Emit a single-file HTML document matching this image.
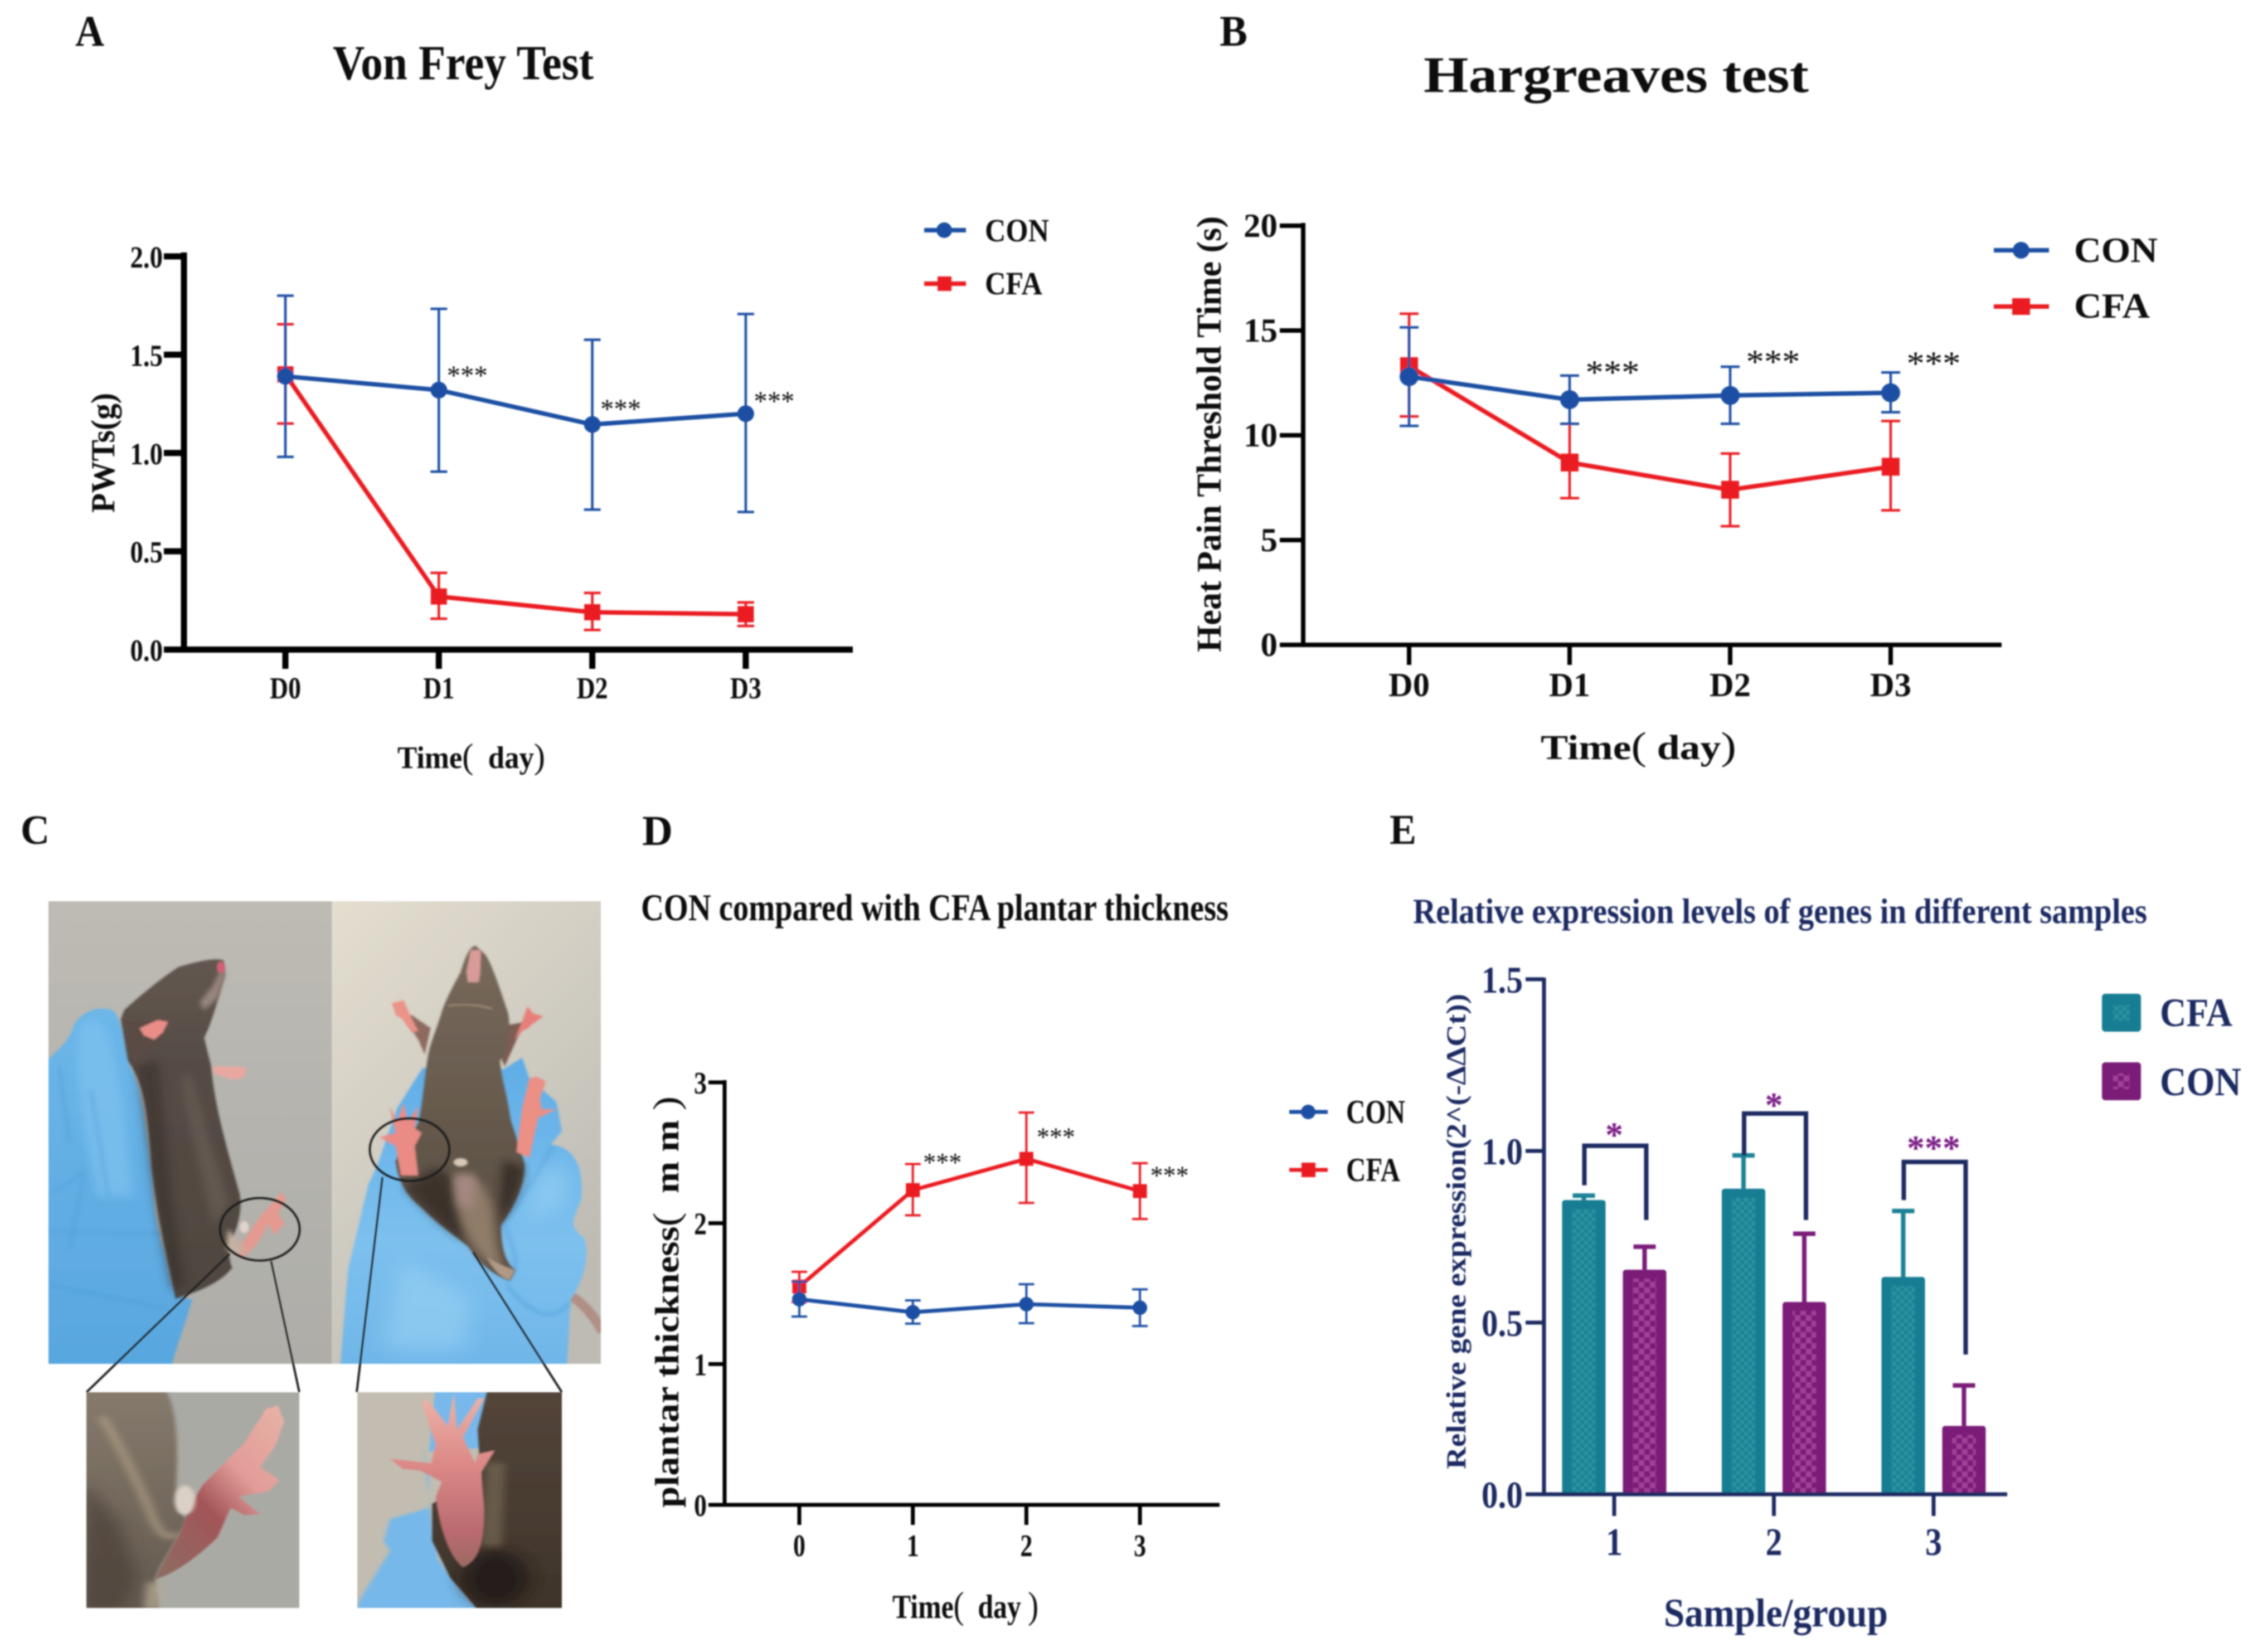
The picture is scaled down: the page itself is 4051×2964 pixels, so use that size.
<!DOCTYPE html>
<html lang="en">
<head>
<meta charset="utf-8">
<title>Von Frey, Hargreaves, plantar thickness and gene expression figure</title>
<style>
html,body{margin:0;padding:0;background:#fff;}
svg{display:block;}
text{font-family:"Liberation Serif","Noto Serif CJK SC",serif;font-weight:bold;fill:#111;}
.navy{fill:#1f2c62;}
.thin{font-weight:normal;}
</style>
</head>
<body>
<svg id="fig" xmlns="http://www.w3.org/2000/svg" width="4051" height="2964" viewBox="0 0 4051 2964">
<defs>
  <filter id="soft" x="-2%" y="-2%" width="104%" height="104%"><feGaussianBlur stdDeviation="1.3"/></filter>
  <filter id="b3" x="-10%" y="-10%" width="120%" height="120%"><feGaussianBlur stdDeviation="3"/></filter>
  <filter id="b7" x="-20%" y="-20%" width="140%" height="140%"><feGaussianBlur stdDeviation="7"/></filter>
  <filter id="b14" x="-30%" y="-30%" width="160%" height="160%"><feGaussianBlur stdDeviation="14"/></filter>
  <filter id="b30" x="-50%" y="-50%" width="200%" height="200%"><feGaussianBlur stdDeviation="30"/></filter>
  <pattern id="chkTeal" width="14" height="14" patternUnits="userSpaceOnUse"><rect width="14" height="14" fill="#1b8296"/><rect width="7" height="7" fill="#2a929f"/><rect x="7" y="7" width="7" height="7" fill="#2a929f"/></pattern>
  <pattern id="chkPurple" width="20" height="20" patternUnits="userSpaceOnUse"><rect width="20" height="20" fill="#7a1a78"/><rect width="10" height="10" fill="#a13f96"/><rect x="10" y="10" width="10" height="10" fill="#a13f96"/></pattern>
  <linearGradient id="bgL" x1="0" y1="0" x2="0" y2="1"><stop offset="0" stop-color="#bebbb4"/><stop offset=".5" stop-color="#b4b3ae"/><stop offset="1" stop-color="#aeada8"/></linearGradient>
  <linearGradient id="bgR" x1="0" y1="0" x2="0.6" y2="1"><stop offset="0" stop-color="#e4decf"/><stop offset=".45" stop-color="#d3cfc4"/><stop offset="1" stop-color="#bdbbb4"/></linearGradient>
  <linearGradient id="gloveL" x1="0" y1="0" x2="0" y2="1"><stop offset="0" stop-color="#6cb6e8"/><stop offset="1" stop-color="#58a6df"/></linearGradient>
  <linearGradient id="gloveR" x1="0" y1="0" x2="0" y2="1"><stop offset="0" stop-color="#5fade6"/><stop offset=".6" stop-color="#7cc0ee"/><stop offset="1" stop-color="#6fb6e8"/></linearGradient>
  <linearGradient id="furL" x1="0" y1="0" x2="0" y2="1"><stop offset="0" stop-color="#625750"/><stop offset=".3" stop-color="#554c45"/><stop offset="1" stop-color="#4f4640"/></linearGradient>
  <linearGradient id="furR" x1="0" y1="0" x2="0" y2="1"><stop offset="0" stop-color="#78695b"/><stop offset=".5" stop-color="#665a4d"/><stop offset="1" stop-color="#54483d"/></linearGradient>
  <linearGradient id="footA" x1="0.9" y1="0" x2="0.1" y2="1"><stop offset="0" stop-color="#e6b0a4"/><stop offset=".35" stop-color="#e29c98"/><stop offset=".6" stop-color="#a35558"/><stop offset="1" stop-color="#8e6b62"/></linearGradient>
  <linearGradient id="footB" x1="0" y1="0" x2="0" y2="1"><stop offset="0" stop-color="#ecb4a8"/><stop offset=".4" stop-color="#dd8a88"/><stop offset=".8" stop-color="#b96a70"/><stop offset="1" stop-color="#9c6a62"/></linearGradient>
  <linearGradient id="furI1" x1="0" y1="0" x2="0" y2="1"><stop offset="0" stop-color="#857a6c"/><stop offset="1" stop-color="#645a50"/></linearGradient>
  <linearGradient id="furI2" x1="0" y1="0" x2="0" y2="1"><stop offset="0" stop-color="#54453a"/><stop offset="1" stop-color="#3e342a"/></linearGradient>
  <clipPath id="clipL"><rect x="0" y="0" width="805" height="1568"/></clipPath>
  <clipPath id="clipR"><rect x="805" y="0" width="763" height="1568"/></clipPath>
  <clipPath id="clipI1"><rect x="0" y="0" width="702" height="1161"/></clipPath>
  <clipPath id="clipI2"><rect x="893" y="0" width="675" height="1161"/></clipPath>
</defs>
<rect width="4051" height="2964" fill="#fff"/>
<g id="root" filter="url(#soft)">

  <text x="135" y="82" font-size="78" textLength="52" lengthAdjust="spacingAndGlyphs">A</text>
  <text x="2188" y="82" font-size="78" textLength="50" lengthAdjust="spacingAndGlyphs">B</text>
  <text x="37" y="1514" font-size="74" textLength="52" lengthAdjust="spacingAndGlyphs">C</text>
  <text x="1152" y="1516" font-size="76" textLength="55" lengthAdjust="spacingAndGlyphs">D</text>
  <text x="2493" y="1514" font-size="76" textLength="48" lengthAdjust="spacingAndGlyphs">E</text>

  <text x="597" y="142" font-size="88" textLength="468" lengthAdjust="spacingAndGlyphs">Von Frey Test</text>
  <text x="2554" y="165" font-size="92" textLength="691" lengthAdjust="spacingAndGlyphs">Hargreaves test</text>
  <text x="1150" y="1651" font-size="68" textLength="1054" lengthAdjust="spacingAndGlyphs">CON compared with CFA plantar thickness</text>
  <text class="navy" x="2535" y="1656" font-size="64" textLength="1317" lengthAdjust="spacingAndGlyphs">Relative expression levels of genes in different samples</text>

  <text x="713" y="1378" font-size="56" textLength="265" lengthAdjust="spacingAndGlyphs">Time<tspan class="thin" font-size="64">(</tspan>&#160;&#160;day<tspan class="thin" font-size="64">)</tspan></text>
  <text transform="translate(205,920) rotate(-90)" font-size="60" textLength="215" lengthAdjust="spacingAndGlyphs">PWTs(g)</text>
  <text x="2764" y="1362" font-size="62" textLength="351" lengthAdjust="spacingAndGlyphs">Time<tspan class="thin" font-size="70">(</tspan>&#160;day<tspan class="thin" font-size="70">)</tspan></text>
  <text transform="translate(2190,1170) rotate(-90)" font-size="62" textLength="782" lengthAdjust="spacingAndGlyphs">Heat Pain Threshold Time (s)</text>
  <text x="1601" y="2903" font-size="60" textLength="262" lengthAdjust="spacingAndGlyphs">Time<tspan class="thin" font-size="68">(</tspan>&#160;&#160;day&#160;<tspan class="thin" font-size="68">)</tspan></text>
  <text transform="translate(1217,2705) rotate(-90)" font-size="60" textLength="738" lengthAdjust="spacingAndGlyphs">plantar thickness<tspan class="thin" font-size="66">(</tspan>&#160;&#160;m m&#160;<tspan class="thin" font-size="66">)</tspan></text>
  <text class="navy" x="2985" y="2918" font-size="72" textLength="402" lengthAdjust="spacingAndGlyphs">Sample/group</text>
  <text class="navy" transform="translate(2629,2636) rotate(-90)" font-size="50" textLength="853" lengthAdjust="spacingAndGlyphs">Relative gene expression(2^(-ΔΔCt))</text>

  <g>
    <line x1="1658" y1="413" x2="1733" y2="413" stroke="#1f4fa3" stroke-width="8"/>
    <circle cx="1694" cy="413" r="14" fill="#1f4fa3"/>
    <text x="1767" y="433" font-size="58" textLength="115" lengthAdjust="spacingAndGlyphs">CON</text>
    <line x1="1658" y1="509" x2="1733" y2="509" stroke="#ea1c24" stroke-width="8"/>
    <rect x="1682" y="496" width="25" height="26" fill="#ea1c24"/>
    <text x="1767" y="528" font-size="58" textLength="103" lengthAdjust="spacingAndGlyphs">CFA</text>
  </g>
  <g>
    <line x1="3577" y1="449" x2="3676" y2="449" stroke="#1f4fa3" stroke-width="8"/>
    <circle cx="3626" cy="449" r="15" fill="#1f4fa3"/>
    <text x="3721" y="470" font-size="64" textLength="150" lengthAdjust="spacingAndGlyphs">CON</text>
    <line x1="3577" y1="550" x2="3676" y2="550" stroke="#ea1c24" stroke-width="8"/>
    <rect x="3610" y="535" width="32" height="30" fill="#ea1c24"/>
    <text x="3721" y="570" font-size="64" textLength="136" lengthAdjust="spacingAndGlyphs">CFA</text>
  </g>
  <g>
    <line x1="2313" y1="1995" x2="2382" y2="1995" stroke="#1f4fa3" stroke-width="7"/>
    <circle cx="2347" cy="1995" r="13" fill="#1f4fa3"/>
    <text x="2415" y="2015" font-size="60" textLength="106" lengthAdjust="spacingAndGlyphs">CON</text>
    <line x1="2313" y1="2099" x2="2382" y2="2099" stroke="#ea1c24" stroke-width="7"/>
    <rect x="2335" y="2086" width="25" height="26" fill="#ea1c24"/>
    <text x="2415" y="2119" font-size="60" textLength="97" lengthAdjust="spacingAndGlyphs">CFA</text>
  </g>
  <g>
    <rect x="3771" y="1783" width="70" height="68" rx="6" fill="#157d93"/>
    <rect x="3791" y="1803" width="30" height="28" fill="url(#chkTeal)"/>
    <text class="navy" x="3875" y="1841" font-size="72" textLength="130" lengthAdjust="spacingAndGlyphs">CFA</text>
    <rect x="3771" y="1906" width="70" height="68" rx="6" fill="#7a1a78"/>
    <rect x="3791" y="1926" width="30" height="28" fill="url(#chkPurple)"/>
    <text class="navy" x="3875" y="1965" font-size="72" textLength="146" lengthAdjust="spacingAndGlyphs">CON</text>
  </g>

  <g id="chart-a"></g>
  <g id="chart-b"></g>
  <g id="chart-d"></g>
  <g id="chart-e"></g>

  <g transform="translate(87,1617) scale(0.632,0.5293)">
    <g clip-path="url(#clipL)">
      <rect x="0" y="0" width="805" height="1568" fill="url(#bgL)"/>
      <path filter="url(#b3)" d="M-10 545 C40 490 60 470 72 420 C95 370 150 350 185 372 C205 400 212 440 232 560 C270 640 272 750 292 900 C302 1000 292 1050 332 1200 C352 1300 348 1340 408 1350 C392 1420 372 1480 348 1578 L-10 1578 Z" fill="url(#gloveL)"/>
      <path filter="url(#b14)" d="M90 420 C140 380 170 420 180 520 C210 620 220 800 240 1000 L140 1000 C110 800 70 620 90 420 Z" fill="#7fc3ef" opacity=".7"/>
      <path filter="url(#b7)" d="M0 1120 L320 1125 M10 990 L100 920 L60 1180 M0 1300 L330 1380 M30 560 L60 820 M120 640 L170 1000" stroke="#4a98d2" stroke-width="8" fill="none" opacity=".5"/>
      <path filter="url(#b3)" d="M497 200 C470 190 420 205 370 222 C320 260 260 320 215 368 L205 400 L225 540 C270 620 282 700 292 900 C312 1100 345 1250 360 1348 C430 1322 490 1292 522 1242 C512 1222 515 1190 510 1170 C545 1100 552 1020 540 980 C510 850 472 700 462 560 L442 462 C462 420 482 330 502 250 Z" fill="url(#furL)"/>
      <path filter="url(#b14)" d="M250 560 C270 700 290 1000 350 1320 L390 1300 C340 1000 330 700 310 540 Z" fill="#332b26" opacity=".5"/>
      <path filter="url(#b14)" d="M400 580 C440 760 480 900 510 1020 L470 1100 C430 900 400 760 380 600 Z" fill="#6f655c" opacity=".6"/>
      <path filter="url(#b7)" d="M498 210 L504 250 L480 330 L440 370 L430 340 L465 290 Z" fill="#b09a94" opacity=".7"/>
      <ellipse filter="url(#b3)" cx="489" cy="224" rx="11" ry="20" fill="#d85f75"/>
      <path filter="url(#b3)" d="M220 410 L340 400 L320 470 L240 550 Z" fill="#5a4b45"/>
      <path filter="url(#b3)" d="M258 430 L310 402 L340 408 L325 445 L300 470 L270 455 Z" fill="#ea8d88"/>
      <path filter="url(#b3)" d="M465 560 L530 560 L562 565 L555 598 L525 605 L470 585 Z" fill="#e8a8a0"/>
      <path filter="url(#b3)" d="M520 1190 C560 1160 578 1095 615 1050 L662 985 L674 1010 L652 1060 L670 1092 L642 1130 L622 1092 C605 1150 575 1190 548 1208 Z" fill="#e49a90"/>
      <path filter="url(#b7)" d="M510 1110 L560 1180 L535 1210 L505 1175 Z" fill="#c5b0a2"/>
      <ellipse filter="url(#b3)" cx="556" cy="1105" rx="13" ry="20" fill="#dfd4ca"/>
    </g>
    <g clip-path="url(#clipR)">
      <rect x="805" y="0" width="763" height="1568" fill="url(#bgR)"/>
      <path filter="url(#b3)" d="M1485 1340 Q1530 1370 1575 1460" fill="none" stroke="#b08f85" stroke-width="30"/>
      <path filter="url(#b3)" d="M828 1578 L850 1250 C880 1100 892 1040 908 960 L935 890 L990 700 L1062 565 L1290 570 L1345 530 L1365 600 L1442 680 L1458 780 L1425 825 C1490 830 1522 900 1512 1010 C1492 1080 1472 1100 1520 1140 C1537 1200 1522 1280 1482 1350 L1472 1578 Z" fill="url(#gloveR)"/>
      <path filter="url(#b7)" d="M1290 1090 C1330 1200 1340 1240 1300 1290 M1300 1300 C1380 1420 1440 1420 1480 1360 M1430 830 C1400 900 1350 1000 1290 1090" stroke="#4a98d4" stroke-width="8" fill="none" opacity=".6"/>
      <path filter="url(#b30)" d="M1000 1220 L1200 1340 L1180 1520 L950 1520 Z M1400 900 L1480 900 L1460 1040 L1350 1080 Z" fill="#a2d6f5" opacity=".5"/>
      <path filter="url(#b3)" d="M1085 430 L1068 520 L1050 470 L1010 400 L1030 385 Z" fill="#8d6a60"/>
      <path filter="url(#b3)" d="M1300 420 L1350 410 L1325 480 L1295 560 L1280 520 Z" fill="#7b5b52"/>
      <path filter="url(#b3)" d="M975 345 L1008 335 L1030 395 L1050 440 L1032 445 L1005 400 L985 385 Z" fill="#ec9388"/>
      <path filter="url(#b3)" d="M1322 470 L1345 405 L1360 355 L1375 380 L1405 390 L1370 420 L1362 430 L1345 440 Z" fill="#e77f78"/>
      <path filter="url(#b3)" d="M1212 150 C1195 155 1182 190 1170 240 C1142 300 1122 350 1115 380 C1100 440 1082 480 1075 540 C1065 620 1060 700 1050 750 L985 880 C990 930 1005 990 1060 1040 C1100 1090 1150 1130 1190 1170 C1220 1220 1260 1270 1310 1285 L1325 1250 C1290 1220 1285 1150 1285 1100 C1330 1020 1352 960 1352 890 L1312 740 C1302 650 1285 600 1282 540 C1312 490 1312 430 1305 380 C1282 300 1262 220 1240 180 Z" fill="url(#furR)"/>
      <path filter="url(#b14)" d="M1010 970 C1060 1030 1110 1100 1180 1150 L1160 950 L1100 900 Z" fill="#2f2620" opacity=".7"/>
      <path filter="url(#b14)" d="M1290 880 L1350 900 C1340 970 1320 1030 1280 1090 Z" fill="#2e2620" opacity=".8"/>
      <path filter="url(#b14)" d="M1150 930 C1200 910 1240 950 1260 1040 C1270 1130 1270 1190 1300 1260 L1240 1220 C1180 1150 1150 1040 1150 930 Z" fill="#8f7b69"/>
      <path filter="url(#b14)" d="M1155 930 L1210 930 L1205 1040 L1165 1030 Z" fill="#a58883"/>
      <path filter="url(#b3)" d="M1245 1205 C1275 1230 1300 1240 1325 1250 L1310 1285 C1280 1275 1260 1245 1245 1205 Z" fill="#b09a85"/>
      <path filter="url(#b3)" d="M1135 355 Q1190 340 1260 365" fill="none" stroke="#a99379" stroke-width="5"/>
      <path filter="url(#b3)" d="M1198 165 L1228 165 L1226 240 L1222 275 L1190 275 L1186 240 Z" fill="#d89b98"/>
      <ellipse filter="url(#b3)" cx="1170" cy="885" rx="20" ry="14" fill="#d9c8b4"/>
      <path filter="url(#b3)" d="M1328 850 L1345 700 L1365 600 L1385 595 L1412 610 L1395 670 L1400 705 L1442 705 L1390 735 L1365 870 Z" fill="#ec8f85"/>
      <path filter="url(#b3)" d="M1000 930 L985 830 L940 800 L985 785 L968 695 L990 745 L1008 685 L1020 745 L1050 695 L1040 770 L1060 785 L1040 830 L1050 930 Z" fill="#ea8b85"/>
    </g>
    <ellipse cx="600" cy="1112" rx="113" ry="106" fill="none" stroke="#222" stroke-width="5" vector-effect="non-scaling-stroke"/>
    <ellipse cx="1025" cy="842" rx="113" ry="106" fill="none" stroke="#222" stroke-width="5" vector-effect="non-scaling-stroke"/>
    <line x1="515" y1="1195" x2="108" y2="1664" stroke="#222" stroke-width="4" vector-effect="non-scaling-stroke"/>
    <line x1="632" y1="1220" x2="712" y2="1664" stroke="#222" stroke-width="4" vector-effect="non-scaling-stroke"/>
    <line x1="948" y1="935" x2="875" y2="1664" stroke="#222" stroke-width="4" vector-effect="non-scaling-stroke"/>
    <line x1="1205" y1="1190" x2="1457" y2="1664" stroke="#222" stroke-width="4" vector-effect="non-scaling-stroke"/>
  </g>

  <g transform="translate(155,2498) scale(0.544,0.3333)">
    <g clip-path="url(#clipI1)">
      <rect x="0" y="0" width="702" height="1161" fill="#aaaaa4"/>
      <path filter="url(#b7)" d="M-10 -10 L262 -10 C302 100 302 300 296 500 L302 640 L332 680 C312 780 252 900 226 1010 L236 1170 L-10 1170 Z" fill="url(#furI1)"/>
      <path filter="url(#b14)" d="M50 130 C110 280 180 520 220 680 C240 760 270 800 300 760" fill="none" stroke="#b5a488" stroke-width="30" opacity=".65"/>
      <path filter="url(#b30)" d="M-10 480 L110 700 L170 1000 L120 1170 L-10 1170 Z" fill="#463c34" opacity=".65"/>
      <path filter="url(#b14)" d="M200 1020 L245 1030 L240 1170 L190 1170 Z" fill="#b4a992" opacity=".8"/>
      <path filter="url(#b3)" d="M225 1008 C300 975 382 862 432 782 L476 622 L522 662 L572 655 L502 562 L602 532 L636 472 L572 402 L622 292 L652 160 L632 70 L592 90 L522 272 L442 402 L382 502 C352 582 322 682 312 752 C282 832 242 952 225 1008 Z" fill="url(#footA)"/>
      <ellipse filter="url(#b7)" cx="325" cy="580" rx="34" ry="78" fill="#dbd0c6"/>
    </g>
    <g clip-path="url(#clipI2)">
      <rect x="893" y="0" width="675" height="1161" fill="#c2bdb0"/>
      <path filter="url(#b3)" d="M1150 -10 L1325 -10 L1300 300 L1130 320 Z" fill="#78b8ea"/>
      <path filter="url(#b7)" d="M1110 290 L1130 460 L1130 622 L1002 682 L980 800 L1002 852 L900 1120 L893 1170 L1295 1170 C1250 1100 1210 1000 1160 900 L1140 700 Z" fill="#76b8ea"/>
      <path filter="url(#b3)" d="M1322 -10 L1578 -10 L1578 1170 L1290 1170 L1200 1000 L1140 800 L1140 600 L1300 450 L1290 200 Z" fill="url(#furI2)"/>
      <ellipse filter="url(#b30)" cx="1350" cy="1000" rx="110" ry="150" fill="#1f1812" opacity=".75"/>
      <path filter="url(#b14)" d="M1320 380 L1380 380 L1370 830 L1300 830 Z" fill="#7d6f5a" opacity=".6"/>
      <path filter="url(#b3)" d="M1172 482 L1152 562 C1162 702 1192 882 1242 942 C1302 902 1312 782 1312 622 L1302 432 L1347 312 L1292 332 L1282 382 L1242 242 L1312 32 L1292 32 L1222 202 L1212 2 L1192 182 L1122 32 L1107 62 L1152 282 L1137 382 L1002 357 L1042 412 L1102 422 Z" fill="url(#footB)"/>
    </g>
  </g>
</g>
</svg>
<script>
// ---- Chart A data (Von Frey) ----
const aCategories = ['D0', 'D1', 'D2', 'D3'];
const aYTicks = ['0.0', '0.5', '1.0', '1.5', '2.0'];
const aConMean = [1.39, 1.32, 1.145, 1.20];
const aConHigh = [1.80, 1.733, 1.576, 1.707];
const aConLow = [0.98, 0.905, 0.712, 0.70];
const aCfaMean = [1.40, 0.27, 0.19, 0.18];
const aCfaHigh = [1.655, 0.39, 0.288, 0.24];
const aCfaLow = [1.15, 0.157, 0.10, 0.12];
const aStarLevels = [null, 1.416, 1.246, 1.286];

// ---- Chart B data (Hargreaves) ----
const bCategories = ['D0', 'D1', 'D2', 'D3'];
const bYTicks = ['0', '5', '10', '15', '20'];
const bConMean = [12.8, 11.7, 11.9, 12.03];
const bConHigh = [15.15, 12.85, 13.27, 13.0];
const bConLow = [10.45, 10.55, 10.55, 11.1];
const bCfaMean = [13.3, 8.7, 7.4, 8.5];
const bCfaHigh = [15.8, 10.55, 9.13, 10.68];
const bCfaLow = [10.9, 7.0, 5.66, 6.42];
const bStarLevels = [null, 13.24, 13.75, 13.67];

// ---- Chart D data (plantar thickness) ----
const dCategories = ['0', '1', '2', '3'];
const dYTicks = ['0', '1', '2', '3'];
const dConMean = [1.46, 1.368, 1.425, 1.40];
const dConHigh = [1.585, 1.452, 1.567, 1.53];
const dConLow = [1.337, 1.287, 1.29, 1.27];
const dCfaMean = [1.55, 2.235, 2.457, 2.228];
const dCfaHigh = [1.655, 2.42, 2.786, 2.426];
const dCfaLow = [1.44, 2.056, 2.144, 2.03];
const dStarLevels = [null, 2.46, 2.64, 2.366];

// ---- Chart E data (gene expression) ----
const eCategories = ['1', '2', '3'];
const eYTicks = ['0.0', '0.5', '1.0', '1.5'];
const eCfaMean = [0.857, 0.89, 0.633];
const eCfaHigh = [0.87, 0.987, 0.825];
const eConMean = [0.654, 0.56, 0.199];
const eConHigh = [0.721, 0.759, 0.317];
const eBracketTop = [1.015, 1.109, 0.968];
const eBracketLeftEnd = [0.90, 0.987, 0.857];
const eBracketRightEnd = [0.799, 0.799, 0.407];
const eStarLevels = [1.062, 1.149, 1.024];
const eStars = ['*', '*', '***'];

const NS = 'http://www.w3.org/2000/svg';
const BLUE = '#1f4fa3';
const RED = '#ea1c24';
const NAVY = '#1f2c62';

function mk(parent, tag, attrs, name, text) {
  const el = document.createElementNS(NS, tag);
  for (const k in attrs) el.setAttribute(k, attrs[k]);
  
  
  if (text !== undefined) el.textContent = text;
  parent.appendChild(el);
  return el;
}

function drawSeries(g, prefix, color, marker, xf, yf, mean, hi, lo, c) {
  mean.forEach((v, i) => {
    const x = xf(i);
    mk(g, 'line', { x1: x, x2: x, y1: yf(hi[i]), y2: yf(lo[i]), stroke: color, 'stroke-width': c.errW }, prefix + '-error-bar-' + i);
    mk(g, 'line', { x1: x - c.cap, x2: x + c.cap, y1: yf(hi[i]), y2: yf(hi[i]), stroke: color, 'stroke-width': c.errW }, prefix + '-error-cap-high-' + i);
    mk(g, 'line', { x1: x - c.cap, x2: x + c.cap, y1: yf(lo[i]), y2: yf(lo[i]), stroke: color, 'stroke-width': c.errW }, prefix + '-error-cap-low-' + i);
  });
  const pts = mean.map((v, i) => xf(i) + ',' + yf(v)).join(' ');
  mk(g, 'polyline', { points: pts, fill: 'none', stroke: color, 'stroke-width': c.lineW, 'stroke-linejoin': 'round' }, prefix + '-line');
  mean.forEach((v, i) => {
    if (marker === 'circle') {
      mk(g, 'circle', { cx: xf(i), cy: yf(v), r: c.r, fill: color }, prefix + '-point-' + i);
    } else {
      mk(g, 'rect', { x: xf(i) - c.sq / 2, y: yf(v) - c.sq / 2, width: c.sq, height: c.sq, fill: color }, prefix + '-point-' + i);
    }
  });
}

function drawAxes(g, prefix, c, categories, xf, yf, ticks, color, fill) {
  mk(g, 'line', { x1: c.axisX, x2: c.axisX, y1: c.axisTop, y2: c.y0 + c.axisW / 2, stroke: color, 'stroke-width': c.axisW }, prefix + '-y-axis');
  mk(g, 'line', { x1: c.tickLeft, x2: c.xEnd, y1: c.y0, y2: c.y0, stroke: color, 'stroke-width': c.axisW }, prefix + '-x-axis');
  ticks.forEach(t => {
    const v = parseFloat(t);
    mk(g, 'line', { x1: c.tickLeft, x2: c.axisX, y1: yf(v), y2: yf(v), stroke: color, 'stroke-width': c.axisW }, prefix + '-y-tick-' + t);
    const lbl = mk(g, 'text', { x: c.yLabelRight - c.yCharW * t.length, y: yf(v) + c.yLabelDy, 'font-size': c.yFont, textLength: c.yCharW * t.length, lengthAdjust: 'spacingAndGlyphs' }, prefix + '-y-tick-label-' + t, t);
    if (fill) lbl.style.fill = fill;
  });
  categories.forEach((t, i) => {
    mk(g, 'line', { x1: xf(i), x2: xf(i), y1: c.y0, y2: c.tickBottom, stroke: color, 'stroke-width': c.axisW }, prefix + '-x-tick-' + t);
    const lbl = mk(g, 'text', { x: xf(i) - c.xLabelW / 2, y: c.xLabelY, 'font-size': c.xFont, textLength: c.xLabelW, lengthAdjust: 'spacingAndGlyphs' }, prefix + '-x-tick-label-' + t, t);
    if (fill) lbl.style.fill = fill;
  });
}

function lineChart(id, prefix, c, categories, ticks, con, cfa, stars) {
  const g = document.getElementById(id);
  const yMax = parseFloat(ticks[ticks.length - 1]);
  const xf = i => c.x0 + i * c.dx;
  const yf = v => c.y0 - v * (c.y0 - c.yTopTick) / yMax;
  drawAxes(g, prefix, c, categories, xf, yf, ticks, '#000');
  drawSeries(g, prefix + '-cfa', RED, 'square', xf, yf, cfa[0], cfa[1], cfa[2], c);
  drawSeries(g, prefix + '-con', BLUE, 'circle', xf, yf, con[0], con[1], con[2], c);
  stars.forEach((lvl, i) => {
    if (lvl === null) return;
    const t = mk(g, 'text', { x: xf(i) + c.starDx - c.starW / 2, y: yf(lvl) + 0.48 * c.starFont, 'font-size': c.starFont, textLength: c.starW, lengthAdjust: 'spacingAndGlyphs' }, prefix + '-significance-' + i, '***');
    t.style.fontWeight = 'normal';
  });
}

lineChart('chart-a', 'chart-a', {
  x0: 512, dx: 275.3, y0: 1165.5, yTopTick: 460, axisX: 330, axisTop: 453, axisW: 11, xEnd: 1530, tickLeft: 294, tickBottom: 1200,
  yLabelRight: 292, yCharW: 19.5, yLabelDy: 20, yFont: 55, xLabelY: 1253, xFont: 55, xLabelW: 56,
  errW: 4.5, cap: 15, lineW: 8, r: 15, sq: 29, starDx: 51, starW: 73, starFont: 50
}, aCategories, aYTicks, [aConMean, aConHigh, aConLow], [aCfaMean, aCfaHigh, aCfaLow], aStarLevels);

lineChart('chart-b', 'chart-b', {
  x0: 2528, dx: 288, y0: 1157, yTopTick: 405, axisX: 2338, axisTop: 400, axisW: 8, xEnd: 3591, tickLeft: 2296, tickBottom: 1193,
  yLabelRight: 2292, yCharW: 30.5, yLabelDy: 20, yFont: 60, xLabelY: 1249, xFont: 60, xLabelW: 74,
  errW: 4.5, cap: 17, lineW: 8, r: 17, sq: 32, starDx: 77, starW: 97, starFont: 60
}, bCategories, bYTicks, [bConMean, bConHigh, bConLow], [bCfaMean, bCfaHigh, bCfaLow], bStarLevels);

lineChart('chart-d', 'chart-d', {
  x0: 1434, dx: 203.7, y0: 2700, yTopTick: 1942, axisX: 1300, axisTop: 1938, axisW: 7, xEnd: 2188, tickLeft: 1271, tickBottom: 2736,
  yLabelRight: 1268, yCharW: 23, yLabelDy: 20, yFont: 56, xLabelY: 2792, xFont: 56, xLabelW: 22,
  errW: 4, cap: 14, lineW: 7, r: 13, sq: 25, starDx: 53, starW: 69, starFont: 48
}, dCategories, dYTicks, [dConMean, dConHigh, dConLow], [dCfaMean, dCfaHigh, dCfaLow], dStarLevels);

(function drawE() {
  const g = document.getElementById('chart-e');
  const c = { x0: 2896, dx: 286.5, y0: 2681, yTopTick: 1757, axisX: 2770, axisTop: 1754, axisW: 7, xEnd: 3601, tickLeft: 2737, tickBottom: 2720,
    yLabelRight: 2732, yCharW: 24.7, yLabelDy: 24, yFont: 68, xLabelY: 2790, xFont: 70, xLabelW: 30 };
  const xf = i => c.x0 + i * c.dx;
  const yf = v => c.y0 - v * (c.y0 - c.yTopTick) / 1.5;
  const barW = 78, off = 54.5;
  function bar(cx, mean, hi, prefix, solid, pat, errColor) {
    mk(g, 'line', { x1: cx, x2: cx, y1: yf(hi), y2: yf(mean), stroke: errColor, 'stroke-width': 8 }, prefix + '-error-bar');
    mk(g, 'line', { x1: cx - 20, x2: cx + 20, y1: yf(hi), y2: yf(hi), stroke: errColor, 'stroke-width': 8 }, prefix + '-error-cap');
    mk(g, 'rect', { x: cx - barW / 2, y: yf(mean), width: barW, height: c.y0 - yf(mean), rx: 5, fill: solid }, prefix + '-bar');
    const insetH = Math.max(0, c.y0 - yf(mean) - 16);
    mk(g, 'rect', { x: cx - barW / 2 + 18, y: yf(mean) + 16, width: barW - 36, height: insetH, fill: pat }, prefix + '-bar-texture');
  }
  eCategories.forEach((cat, i) => {
    bar(xf(i) - off, eCfaMean[i], eCfaHigh[i], 'chart-e-cfa-' + cat, '#157d93', 'url(#chkTeal)', '#1b8296');
    bar(xf(i) + off, eConMean[i], eConHigh[i], 'chart-e-con-' + cat, '#7a1a78', 'url(#chkPurple)', '#7a1a78');
  });
  drawAxes(g, 'chart-e', c, eCategories, xf, yf, eYTicks, NAVY, NAVY);
  eCategories.forEach((cat, i) => {
    const lx = xf(i) - off + 1, rx = xf(i) + off + 3;
    const d = 'M' + lx + ' ' + yf(eBracketLeftEnd[i]) + ' L' + lx + ' ' + yf(eBracketTop[i]) + ' L' + rx + ' ' + yf(eBracketTop[i]) + ' L' + rx + ' ' + yf(eBracketRightEnd[i]);
    mk(g, 'path', { d: d, fill: 'none', stroke: NAVY, 'stroke-width': 8 }, 'chart-e-bracket-' + cat);
    const w = eStars[i].length * 32;
    const t = mk(g, 'text', { x: xf(i) - w / 2, y: yf(eStarLevels[i]) + 0.48 * 64, 'font-size': 64, textLength: w, lengthAdjust: 'spacingAndGlyphs' }, 'chart-e-significance-' + cat, eStars[i]);
    t.style.fill = '#7a1a85';
  });
})();
</script>
</body>
</html>
